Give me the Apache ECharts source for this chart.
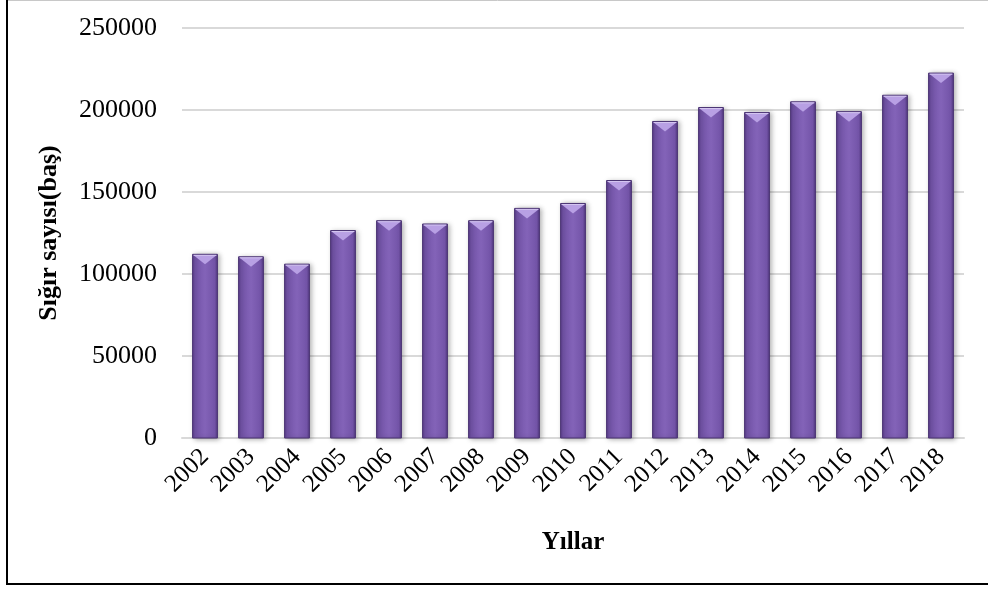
<!DOCTYPE html>
<html>
<head>
<meta charset="utf-8">
<script src="https://cdn.jsdelivr.net/npm/echarts@6/dist/echarts.min.js"></script>
<style>
  html, body { margin: 0; padding: 0; background: #fff; }
  #chart { width: 988px; height: 590px; }
</style>
</head>
<body>
<div id="chart"></div>
<script>
// yillar ve sigir sayilari (bas)
const years = ['2002', '2003', '2004', '2005', '2006', '2007', '2008', '2009', '2010',
               '2011', '2012', '2013', '2014', '2015', '2016', '2017', '2018'];
const cattle = [112000, 110500, 106000, 126500, 132500, 130500, 132500, 140000, 143000,
                157000, 193000, 201500, 198500, 205000, 199000, 209000, 222500];
const yTicks = [0, 50000, 100000, 150000, 200000, 250000];

const serif = '"Liberation Serif", "Times New Roman", serif';

const chart = echarts.init(document.getElementById('chart'));

// bar body with the little bevelled top
function drawBar(params, api) {
    const idx = api.value(0);
    const val = api.value(1);
    const top = api.coord([idx, val]);
    const base = api.coord([idx, 0]);
    const w = api.size([1, 0])[0] * 0.54;
    const l = top[0] - w / 2, r = top[0] + w / 2;
    const t = top[1], b = base[1];
    const bev = Math.min(10, (b - t) / 2);
    const body = new echarts.graphic.LinearGradient(0, 0, 1, 0, [
        { offset: 0, color: '#573b88' },
        { offset: 0.12, color: '#7354a8' },
        { offset: 0.5, color: '#8363b8' },
        { offset: 0.88, color: '#7354a8' },
        { offset: 1, color: '#51377e' }
    ]);
    return {
        type: 'group',
        children: [
            {
                type: 'rect',
                shape: { x: l, y: t, width: w, height: b - t },
                style: {
                    fill: body, stroke: '#4a3373', lineWidth: 1,
                    shadowBlur: 5, shadowOffsetX: 2, shadowOffsetY: 1,
                    shadowColor: 'rgba(0,0,0,0.35)'
                }
            },
            {
                type: 'polygon',
                shape: { points: [[l + 1, t + 1], [r - 1, t + 1], [top[0], t + bev]] },
                style: { fill: '#b8a0e4' }
            },
            {
                type: 'line',
                shape: { x1: l + 1, y1: t + 1, x2: r - 1, y2: t + 1 },
                style: { stroke: '#d6c8f2', lineWidth: 1 }
            }
        ]
    };
}

const option = {
    backgroundColor: '#fff',
    animation: false,
    grid: { left: 182, right: 24, top: 28, bottom: 152 },
    xAxis: {
        type: 'category',
        data: years,
        name: 'Yıllar',
        nameLocation: 'middle',
        nameGap: 92,
        nameTextStyle: { fontFamily: serif, fontSize: 25, fontWeight: 'bold', color: '#000' },
        axisLine: { show: true, lineStyle: { color: '#d9d9d9', width: 2 } },
        axisTick: { show: false },
        axisLabel: { rotate: 45, margin: 15, fontFamily: serif, fontSize: 25, color: '#000' }
    },
    yAxis: {
        type: 'value',
        min: yTicks[0],
        max: yTicks[yTicks.length - 1],
        interval: 50000,
        name: 'Sığır sayısı(baş)',
        nameLocation: 'middle',
        nameGap: 120,
        nameTextStyle: { fontFamily: serif, fontSize: 26, fontWeight: 'bold', color: '#000' },
        axisLine: { show: false },
        axisTick: { show: false },
        axisLabel: {
            margin: 25, fontFamily: serif, fontSize: 26, color: '#000',
            formatter: function (v) { return String(v); }
        },
        splitLine: { lineStyle: { color: '#d9d9d9', width: 2 } }
    },
    series: [{
        type: 'custom',
        renderItem: drawBar,
        encode: { x: 0, y: 1 },
        data: cattle.map(function (v, i) { return [i, v]; })
    }],
    graphic: [
        { type: 'line', shape: { x1: 7, y1: 0.5, x2: 988, y2: 0.5 }, style: { stroke: '#c8c8c8', lineWidth: 1 } },
        { type: 'line', shape: { x1: 7, y1: 0, x2: 7, y2: 585 }, style: { stroke: '#000', lineWidth: 2 } },
        { type: 'line', shape: { x1: 6, y1: 584, x2: 988, y2: 584 }, style: { stroke: '#000', lineWidth: 2 } }
    ]
};

chart.setOption(option);

window.addEventListener('resize', function () {
    chart.resize();
});
</script>
</body>
</html>
